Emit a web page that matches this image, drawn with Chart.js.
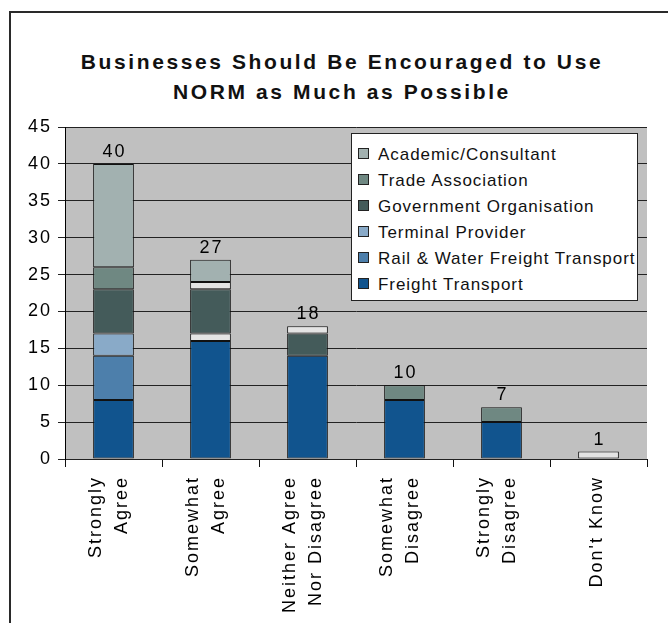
<!DOCTYPE html>
<html>
<head>
<meta charset="utf-8">
<script src="https://cdn.jsdelivr.net/npm/chart.js@4"></script>
<style>
  body { margin: 0; background: #fff; font-family: 'Liberation Sans', Arial, sans-serif; }
  #wrap { position: absolute; left: 0; top: 0; width: 668px; height: 623px; }
  #frame { position: absolute; left: 9px; top: 11px; width: 800px; height: 800px; border: 2px solid #2a2a2a; }
  #title { position: absolute; left: 0; top: 47px; width: 684px; text-align: center; font-weight: bold;
           font-size: 21px; line-height: 30px; letter-spacing: 2.6px; color: #111; }
  #legend { position: absolute; left: 351px; top: 133px; width: 287px; height: 168px; background: #fff;
            border: 1px solid #222; box-sizing: border-box; padding: 8px 0 0 6px; }
  #legend div { height: 26px; line-height: 26px; font-size: 17px; letter-spacing: 0.95px; color: #111; white-space: nowrap; }
  #legend span { display: inline-block; width: 9px; height: 9px; border: 1px solid #222; margin-right: 9px; vertical-align: 1px; }
</style>
</head>
<body>
<div id="frame"></div>
<div id="title">Businesses Should Be Encouraged to Use<br>NORM as Much as Possible</div>
<div id="wrap"><canvas id="chart"></canvas></div>
<div id="legend"></div>
<script>
const categories = [['Strongly', 'Agree'], ['Somewhat', 'Agree'], ['Neither Agree', 'Nor Disagree'],
  ['Somewhat', 'Disagree'], ['Strongly', 'Disagree'], ["Don't Know"]];

// stacked bottom -> top
const freight = [8, 16, 14, 8, 5, 0];
const railWater = [6, 0, 0, 0, 0, 0];
const terminal = [3, 0, 0, 0, 0, 0];
const otherLow = [0, 1, 0, 0, 0, 1];   // unlabelled light segments
const government = [6, 6, 3, 0, 0, 0];
const trade = [3, 0, 0, 2, 2, 0];
const otherHigh = [0, 1, 1, 0, 0, 0];  // unlabelled light segments
const academic = [14, 3, 0, 0, 0, 0];

const yTicks = [0, 5, 10, 15, 20, 25, 30, 35, 40, 45];

const series = [
  { label: 'Freight Transport', data: freight, color: '#11548e', legend: true },
  { label: 'Rail & Water Freight Transport', data: railWater, color: '#4d7fab', legend: true },
  { label: 'Terminal Provider', data: terminal, color: '#89aac8', legend: true },
  { label: 'Other', data: otherLow, color: '#e4e4e4', legend: false },
  { label: 'Government Organisation', data: government, color: '#445b5a', legend: true },
  { label: 'Trade Association', data: trade, color: '#6f8882', legend: true },
  { label: 'Other ', data: otherHigh, color: '#e4e4e4', legend: false },
  { label: 'Academic/Consultant', data: academic, color: '#a2b1b0', legend: true },
];

// legend, top item = last series
document.getElementById('legend').innerHTML = series.filter(s => s.legend).reverse()
  .map(s => `<div><span style="background:${s.color}"></span>${s.label}</div>`).join('');

const FONT = "'Liberation Sans', Arial, sans-serif";

const spacing = {
  id: 'spacing',
  beforeUpdate(chart) { chart.ctx.letterSpacing = '2px'; },
  beforeDraw(chart) { chart.ctx.letterSpacing = '2px'; }
};

const plotBg = {
  id: 'plotBg',
  beforeDraw(chart) {
    const { ctx, chartArea: a } = chart;
    ctx.save();
    ctx.fillStyle = '#c0c0c0';
    ctx.fillRect(a.left, a.top, a.right - a.left, a.bottom - a.top);
    ctx.restore();
  }
};

const totals = {
  id: 'totals',
  afterDatasetsDraw(chart) {
    const { ctx, scales: { x, y } } = chart;
    ctx.save();
    ctx.font = '18px ' + FONT;
    ctx.fillStyle = '#000';
    ctx.textAlign = 'center';
    ctx.textBaseline = 'bottom';
    categories.forEach((c, i) => {
      const t = series.reduce((sum, s) => sum + s.data[i], 0);
      ctx.fillText(String(t), x.getPixelForValue(i) + 1, y.getPixelForValue(t) - 3);
    });
    ctx.restore();
  }
};

// rotated two-line category labels, block nudged left like the original
const xLabels = {
  id: 'xLabels',
  afterDraw(chart) {
    const { ctx, chartArea: a, scales: { x } } = chart;
    ctx.save();
    ctx.font = '18px ' + FONT;
    ctx.fillStyle = '#000';
    ctx.textAlign = 'right';
    ctx.textBaseline = 'middle';
    categories.forEach((lines, i) => {
      const px = x.getPixelForValue(i);
      const start = lines.length > 1 ? px - 17 : px - 1;
      lines.forEach((line, k) => {
        ctx.save();
        ctx.translate(start + k * 25.5, a.bottom + 17);
        ctx.rotate(-Math.PI / 2);
        ctx.fillText(line, 0, 0);
        ctx.restore();
      });
    });
    ctx.restore();
  }
};

new Chart(document.getElementById('chart'), {
  type: 'bar',
  data: {
    labels: categories,
    datasets: series.map(s => ({
      label: s.label, data: s.data, backgroundColor: s.color,
      borderColor: '#111', borderWidth: 1, borderSkipped: false,
      categoryPercentage: 1, barPercentage: 0.42
    }))
  },
  options: {
    responsive: true,
    maintainAspectRatio: false,
    animation: false,
    layout: { padding: { left: 15, right: 21, top: 127, bottom: 0 } },
    plugins: {
      legend: { display: false },
      tooltip: { enabled: false },
      title: { display: false }
    },
    scales: {
      x: {
        stacked: true,
        grid: { offset: true, drawOnChartArea: false, drawTicks: true, tickLength: 8, color: '#111' },
        border: { display: false },
        ticks: { display: false },
        afterFit: s => { s.height = 164; }
      },
      y: {
        stacked: true,
        min: 0, max: 45,
        afterBuildTicks: s => { s.ticks = yTicks.map(v => ({ value: v })); },
        grid: { color: '#222', tickLength: 7 },
        border: { color: '#000', width: 1 },
        ticks: { color: '#000', font: { family: FONT, size: 18 }, padding: 6 },
        afterFit: s => { s.width = 50; }
      }
    }
  },
  plugins: [spacing, plotBg, totals, xLabels]
});
</script>
</body>
</html>
